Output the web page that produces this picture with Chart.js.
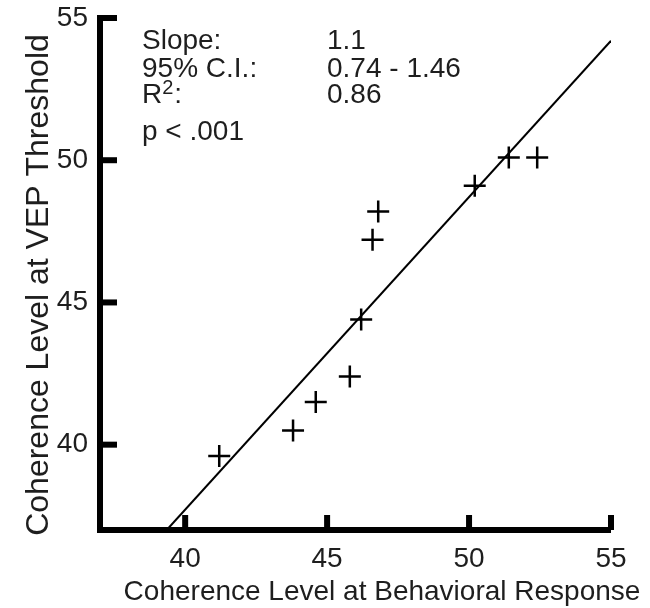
<!DOCTYPE html>
<html>
<head>
<meta charset="utf-8">
<script src="https://cdn.jsdelivr.net/npm/chart.js@4/dist/chart.umd.min.js"></script>
<style>
  body { margin: 0; background: #fff; }
  #wrap { width: 650px; height: 608px; }
</style>
</head>
<body>
<div id="wrap"><canvas id="myChart" width="650" height="608"></canvas></div>
<script>
// coherence level at behavioural response (x) vs at VEP threshold (y)
const behavioral = [41.2, 43.8, 44.6, 45.8, 46.2, 46.6, 46.8, 50.2, 51.4, 52.4];
const vepThreshold = [39.6, 40.5, 41.5, 42.4, 44.4, 47.2, 48.2, 49.1, 50.1, 50.1];

// regression line end points
const fitX = [39.35, 55];
const fitY = [37, 54.2];

const xTicks = [40, 45, 50, 55];
const yTicks = [40, 45, 50, 55];

const xTitle = 'Coherence Level at Behavioral Response';
const yTitle = 'Coherence Level at VEP Threshold';

const statLabels = ['Slope:', '95% C.I.:', 'R', 'p < .001'];
const statValues = ['1.1', '0.74 - 1.46', '0.86', ''];

const fontFamily = '"Liberation Sans", Arial, Helvetica, sans-serif';
const textColor = '#1e1e1e';

// inward tick marks, axis titles and the stats box
const extras = {
    id: 'extras',
    afterDraw: function(chart) {
        const ctx = chart.ctx;
        const area = chart.chartArea;
        const xs = chart.scales.x;
        const ys = chart.scales.y;
        ctx.save();
        ctx.fillStyle = '#000';
        yTicks.forEach(function(v) {
            const y = ys.getPixelForValue(v);
            ctx.fillRect(area.left, y - 3, 17, 6);
        });
        xTicks.forEach(function(v) {
            const x = xs.getPixelForValue(v);
            ctx.fillRect(x - 3, area.bottom - 15, 6, 15);
        });

        ctx.fillStyle = textColor;
        ctx.textBaseline = 'alphabetic';

        // axis titles
        ctx.textAlign = 'center';
        ctx.font = '28px ' + fontFamily;
        ctx.fillText(xTitle, 382, 600);
        ctx.save();
        ctx.translate(48, 285);
        ctx.rotate(-Math.PI / 2);
        ctx.font = '32px ' + fontFamily;
        ctx.fillText(yTitle, 0, 0);
        ctx.restore();

        ctx.textAlign = 'left';
        const baselines = [49, 77, 103, 140];
        ctx.font = '28px ' + fontFamily;
        for (let i = 0; i < statLabels.length; i++) {
            ctx.fillText(statLabels[i], 142, baselines[i]);
            if (statValues[i]) ctx.fillText(statValues[i], 327, baselines[i]);
        }
        // R squared
        const rw = ctx.measureText('R').width;
        ctx.font = '20px ' + fontFamily;
        ctx.fillText('2', 142 + rw, baselines[2] - 9);
        const tw = ctx.measureText('2').width;
        ctx.font = '28px ' + fontFamily;
        ctx.fillText(':', 142 + rw + tw + 1, baselines[2]);
        ctx.restore();
    }
};

const ctx = document.getElementById('myChart').getContext('2d');
const myChart = new Chart(ctx, {
    type: 'scatter',
    data: {
        datasets: [{
            label: 'subjects',
            data: behavioral.map(function(x, i) { return {x: x, y: vepThreshold[i]}; }),
            pointStyle: 'cross',
            pointRadius: 11,
            pointBorderWidth: 2.5,
            borderColor: '#000',
            backgroundColor: '#000'
        }, {
            label: 'fit',
            type: 'line',
            data: fitX.map(function(x, i) { return {x: x, y: fitY[i]}; }),
            borderColor: '#000',
            borderWidth: 2,
            pointRadius: 0,
            fill: false,
            tension: 0
        }]
    },
    options: {
        responsive: false,
        devicePixelRatio: 1,
        animation: false,
        layout: {
            padding: { top: 18, right: 39, left: 0, bottom: 0 }
        },
        plugins: {
            legend: { display: false },
            tooltip: { enabled: false }
        },
        scales: {
            x: {
                type: 'linear',
                min: 37,
                max: 55,
                afterBuildTicks: function(scale) {
                    scale.ticks = xTicks.map(function(v) { return {value: v}; });
                },
                afterFit: function(scale) {
                    scale.height = 78;
                    scale.paddingLeft = 0;
                    scale.paddingRight = 0;
                },
                grid: { drawOnChartArea: false, drawTicks: false, color: '#000', lineWidth: 0 },
                border: { display: true, color: '#000', width: 6 },
                ticks: {
                    padding: 12,
                    color: textColor,
                    font: { family: fontFamily, size: 28 }
                }
            },
            y: {
                type: 'linear',
                min: 37,
                max: 55,
                afterBuildTicks: function(scale) {
                    scale.ticks = yTicks.map(function(v) { return {value: v}; });
                },
                afterFit: function(scale) {
                    scale.width = 100;
                    scale.paddingTop = 0;
                    scale.paddingBottom = 0;
                },
                grid: { drawOnChartArea: false, drawTicks: false, color: '#000', lineWidth: 0 },
                border: { display: true, color: '#000', width: 6 },
                ticks: {
                    padding: 12,
                    color: textColor,
                    font: { family: fontFamily, size: 28 }
                }
            }
        }
    },
    plugins: [extras]
});
</script>
</body>
</html>
